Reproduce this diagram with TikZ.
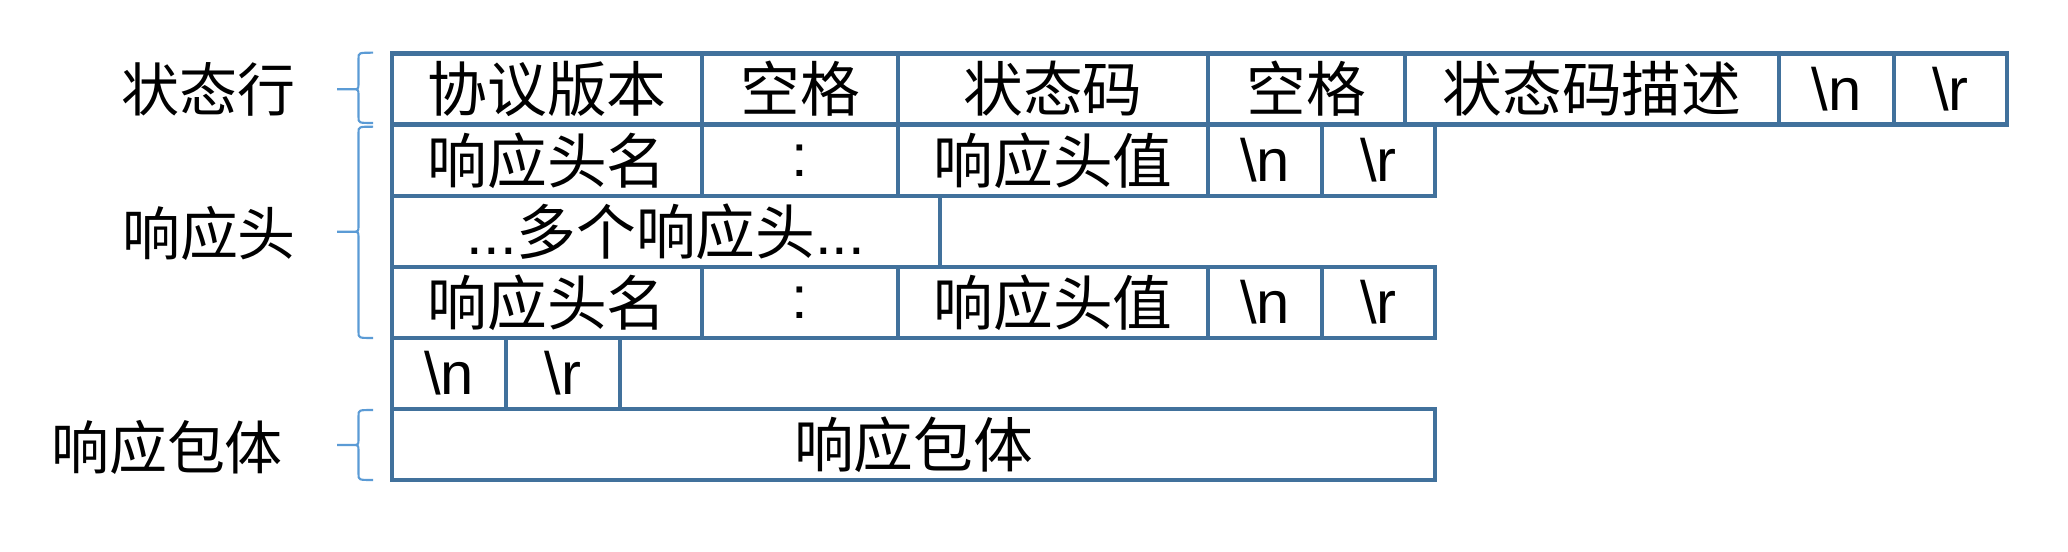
\documentclass[tikz,border=0pt]{standalone}
\usepackage{fontspec}
\setmainfont{Liberation Sans}
\newfontfamily\cjk{Noto Sans CJK SC}
\usepackage{xcolor}
\usepackage{tikz}
\definecolor{cellblue}{RGB}{65, 113, 156}
\definecolor{braceblue}{RGB}{91, 155, 213}

\begin{document}
\begin{tikzpicture}[
    cell/.style={draw=cellblue, line width=1.15pt, minimum height=0.71cm,
                 inner sep=0pt, outer sep=0pt,
                 font=\fontsize{17pt}{20pt}\selectfont},
    hanzi/.style={cell, font=\fontsize{17pt}{20pt}\selectfont\cjk},
    label/.style={font=\fontsize{16.5pt}{19pt}\selectfont\cjk},
    curly/.style={draw=braceblue, line width=0.6pt}
]
    \useasboundingbox (0,0) rectangle (20.68,-5.52);

    % Status line
    \node[hanzi, minimum width=3.10cm] (ver) at (5.47,-0.89) {协议版本};
    \node[hanzi, minimum width=1.96cm] (sp1) at (8.00,-0.89) {空格};
    \node[hanzi, minimum width=3.10cm] (code) at (10.53,-0.89) {状态码};
    \node[hanzi, minimum width=1.97cm] (sp2) at (13.065,-0.89) {空格};
    \node[hanzi, minimum width=3.74cm] (desc) at (15.92,-0.89) {状态码描述};
    \node[cell, minimum width=1.15cm] (lfa) at (18.365,-0.89) {\textbackslash n};
    \node[cell, minimum width=1.13cm] (cra) at (19.505,-0.89) {\textbackslash r};

    % Response headers
    \node[hanzi, minimum width=3.10cm] (namea) at (5.47,-1.605) {响应头名};
    \node[cell, minimum width=1.96cm] (cola) at (8.00,-1.605) {:};
    \node[hanzi, minimum width=3.10cm] (vala) at (10.53,-1.605) {响应头值};
    \node[cell, minimum width=1.14cm] (lfb) at (12.65,-1.605) {\textbackslash n};
    \node[cell, minimum width=1.13cm] (crb) at (13.785,-1.605) {\textbackslash r};

    \node[cell, minimum width=5.48cm] (more) at (6.66,-2.315) {...{\cjk 多个响应头}...};

    \node[hanzi, minimum width=3.10cm] (nameb) at (5.47,-3.025) {响应头名};
    \node[cell, minimum width=1.96cm] (colb) at (8.00,-3.025) {:};
    \node[hanzi, minimum width=3.10cm] (valb) at (10.53,-3.025) {响应头值};
    \node[cell, minimum width=1.14cm] (lfc) at (12.65,-3.025) {\textbackslash n};
    \node[cell, minimum width=1.13cm] (crc) at (13.785,-3.025) {\textbackslash r};

    % Empty line
    \node[cell, minimum width=1.14cm] (lfd) at (4.49,-3.735) {\textbackslash n};
    \node[cell, minimum width=1.14cm] (crd) at (5.63,-3.735) {\textbackslash r};

    % Response body
    \node[hanzi, minimum width=10.43cm] (body) at (9.135,-4.445) {响应包体};

    % Labels
    \node[label] (lstatus) at (2.08,-0.89) {状态行};
    \node[label] (lheader) at (2.09,-2.33) {响应头};
    \node[label] (lbody) at (1.67,-4.47) {响应包体};

    % Braces
    \draw[curly] (3.73,-0.527) .. controls (3.585,-0.527) .. (3.585,-0.587)
        -- (3.585,-0.833) .. controls (3.585,-0.893) .. (3.52,-0.893) -- (3.37,-0.893)
        -- (3.52,-0.893) .. controls (3.585,-0.893) .. (3.585,-0.953)
        -- (3.585,-1.17) .. controls (3.585,-1.23) .. (3.73,-1.23);
    \draw[curly] (3.73,-1.267) .. controls (3.585,-1.267) .. (3.585,-1.327)
        -- (3.585,-2.257) .. controls (3.585,-2.317) .. (3.52,-2.317) -- (3.37,-2.317)
        -- (3.52,-2.317) .. controls (3.585,-2.317) .. (3.585,-2.377)
        -- (3.585,-3.32) .. controls (3.585,-3.38) .. (3.73,-3.38);
    \draw[curly] (3.73,-4.10) .. controls (3.585,-4.10) .. (3.585,-4.16)
        -- (3.585,-4.39) .. controls (3.585,-4.45) .. (3.52,-4.45) -- (3.37,-4.45)
        -- (3.52,-4.45) .. controls (3.585,-4.45) .. (3.585,-4.51)
        -- (3.585,-4.74) .. controls (3.585,-4.80) .. (3.73,-4.80);
\end{tikzpicture}
\end{document}
